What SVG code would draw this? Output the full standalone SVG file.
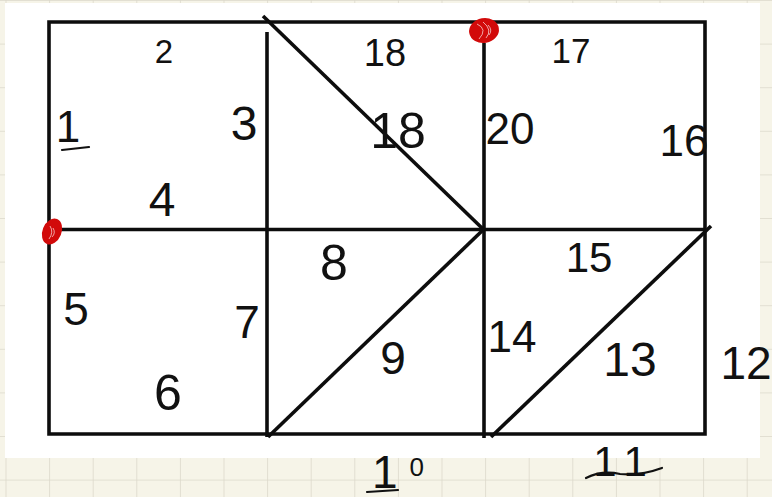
<svg xmlns="http://www.w3.org/2000/svg" width="772" height="497" viewBox="0 0 772 497">
  <defs>
    <pattern id="grid" x="5.5" y="0" width="43.6" height="43.6" patternUnits="userSpaceOnUse">
      <path d="M0 0V43.6M0 0H43.6" fill="none" stroke="#dcd9cb" stroke-width="1.6"/>
    </pattern>
    <style>
      .ln{stroke:#0d0d0d;stroke-width:3.6;fill:none;stroke-linecap:butt}
      .lb{font-family:"Liberation Sans","DejaVu Sans",sans-serif;fill:#111;text-anchor:middle}
      .ul{stroke:#111;stroke-width:2.2;fill:none;stroke-linecap:round}
      .dot{fill:#d20a0a}
      .sc{stroke:#fff;stroke-width:0.8;fill:none;opacity:0.8}
    </style>
  </defs>
  <rect x="0" y="0" width="772" height="497" fill="#f6f4e8"/>
  <rect x="0" y="0" width="772" height="497" fill="url(#grid)"/>
  <rect x="5" y="3" width="755" height="455" fill="#ffffff"/>

  <g id="connectors">
    <path class="ln" d="M49 22H705V434H49Z"/>
    <path class="ln" d="M49 229.5H705"/>
    <path class="ln" d="M267 32V437"/>
    <path class="ln" d="M484 43V438"/>
    <path class="ln" d="M263 16L484 230"/>
    <path class="ln" d="M268 437L484 229"/>
    <path class="ln" d="M491 437L711 226"/>
  </g>

  <g id="dot-left">
    <ellipse class="dot" cx="52" cy="231.5" rx="9.5" ry="13.5" transform="rotate(22 52 231.5)"/>
    <path class="sc" d="M50 226Q54 232 49 239M53 228Q56 233 52 237"/>
  </g>
  <g id="dot-top">
    <ellipse class="dot" cx="484" cy="30.5" rx="15" ry="12.5" transform="rotate(-10 484 30.5)"/>
    <path class="sc" d="M477 24Q488 29 479 39M483 22Q493 30 486 38M488 25Q493 30 489 35"/>
  </g>

  <g id="labels">
    <text class="lb" x="164" y="63" font-size="33">2</text>
    <g id="label-1">
      <text class="lb" x="68" y="142" font-size="44">1</text>
      <path class="ul" d="M62 150L89 147"/>
    </g>
    <text class="lb" x="244" y="140" font-size="48">3</text>
    <text class="lb" x="162" y="216" font-size="48">4</text>
    <text class="lb" x="385" y="66" font-size="38">18</text>
    <text class="lb" x="398" y="148" font-size="50">18</text>
    <text class="lb" x="510" y="144" font-size="44">20</text>
    <text class="lb" x="571" y="63" font-size="35">17</text>
    <text class="lb" x="684" y="156" font-size="44">16</text>
    <text class="lb" x="76" y="325" font-size="46">5</text>
    <text class="lb" x="247" y="338" font-size="46">7</text>
    <text class="lb" x="168" y="410" font-size="50">6</text>
    <text class="lb" x="334" y="280" font-size="50">8</text>
    <text class="lb" x="393" y="374" font-size="46">9</text>
    <text class="lb" x="512" y="352" font-size="44">14</text>
    <text class="lb" x="589" y="272" font-size="42">15</text>
    <text class="lb" x="630" y="376" font-size="48">13</text>
    <text class="lb" x="746" y="379" font-size="46">12</text>
    <g id="label-10">
      <text class="lb" x="398" y="488" font-size="46">1<tspan font-size="26" dx="12" dy="-12">0</tspan></text>
      <path class="ul" d="M367 492L398 490"/>
    </g>
    <g id="label-11">
      <text class="lb" x="620" y="476" font-size="42">1<tspan dx="10">1</tspan></text>
      <path class="ul" d="M586 478Q602 470 620 474Q640 476 662 468"/>
    </g>
  </g>
</svg>
